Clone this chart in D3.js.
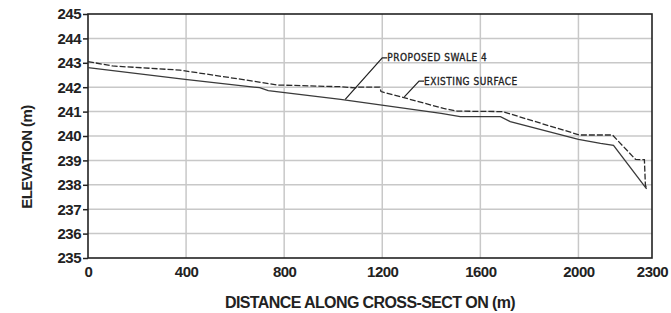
<!DOCTYPE html>
<html>
<head>
<meta charset="utf-8">
<script src="https://cdn.jsdelivr.net/npm/d3@7"></script>
<style>
  body { margin: 0; background: #fff; }
  svg { display: block; }
</style>
</head>
<body>
<div id="chart"></div>
<script>
// 資料
const existingDist = [0, 100, 375, 660, 770, 1030, 1090, 1100, 1190, 1195, 1300, 1450, 1505, 1690, 2005, 2139, 2233, 2269, 2273, 2278];
const existingElev = [243.05, 242.87, 242.7, 242.27, 242.09, 242.02, 241.97, 242.0, 242.0, 241.82, 241.54, 241.13, 241.02, 241.0, 240.04, 240.04, 239.04, 239.03, 238.0, 237.83];

const proposedDist = [0, 396, 700, 735, 1030, 1440, 1518, 1682, 1722, 2000, 2090, 2143, 2278];
const proposedElev = [242.8, 242.32, 241.98, 241.86, 241.5, 240.93, 240.79, 240.79, 240.59, 239.86, 239.7, 239.62, 237.83];

const xTicks = [0, 400, 800, 1200, 1600, 2000, 2300];
const xGrid = [400, 800, 1200, 1600, 2000];
const yTicks = [235, 236, 237, 238, 239, 240, 241, 242, 243, 244, 245];

// 標註 (資料座標)
const notes = [
  { text: "PROPOSED SWALE 4", at: [1049, 241.5], label: [1200, 243.2] },
  { text: "EXISTING SURFACE", at: [1290, 241.6], label: [1350, 242.25] }
];

const width = 671, height = 313;
const margin = { top: 14, right: 19, bottom: 55, left: 88 };

const svg = d3.select("#chart").append("svg")
  .attr("width", width)
  .attr("height", height);

const x = d3.scaleLinear().domain([0, 2300]).range([margin.left, width - margin.right]);
const y = d3.scaleLinear().domain([235, 245]).range([height - margin.bottom, margin.top]);

// 格線
svg.append("g").selectAll("line").data(yTicks.slice(1, -1)).join("line")
  .attr("x1", x(0)).attr("x2", x(2300))
  .attr("y1", d => y(d)).attr("y2", d => y(d))
  .attr("stroke", "#c8c8c8").attr("stroke-width", 1.5);

svg.append("g").selectAll("line").data(xGrid).join("line")
  .attr("x1", d => x(d)).attr("x2", d => x(d))
  .attr("y1", y(235)).attr("y2", y(245))
  .attr("stroke", "#c8c8c8").attr("stroke-width", 1.5);

// 外框
svg.append("rect")
  .attr("x", x(0)).attr("y", y(245))
  .attr("width", x(2300) - x(0)).attr("height", y(235) - y(245))
  .attr("fill", "none").attr("stroke", "#222").attr("stroke-width", 1.6);

// 座標軸
const yAxis = svg.append("g")
  .attr("transform", `translate(${x(0)},0)`)
  .call(d3.axisLeft(y).tickValues(yTicks).tickFormat(d3.format("d")).tickSize(5).tickPadding(2));
const xAxis = svg.append("g")
  .attr("transform", `translate(0,${y(235)})`)
  .call(d3.axisBottom(x).tickValues(xTicks).tickFormat(d3.format("d")).tickSize(0).tickPadding(8));

[yAxis, xAxis].forEach(a => {
  a.select(".domain").remove();
  a.selectAll("line").attr("stroke", "#222").attr("stroke-width", 1.5);
  a.selectAll("text")
    .attr("fill", "#222")
    .style("font-family", "'Liberation Sans', Arial, sans-serif")
    .style("font-weight", "bold")
    .style("font-size", "15px")
    .style("letter-spacing", "-0.5px");
});

// 線條
const line = d3.line().x(d => x(d[0])).y(d => y(d[1]));

svg.append("path")
  .datum(proposedDist.map((d, i) => [d, proposedElev[i]]))
  .attr("d", line)
  .attr("fill", "none")
  .attr("stroke", "#3a3a3a")
  .attr("stroke-width", 1.3);

svg.append("path")
  .datum(existingDist.map((d, i) => [d, existingElev[i]]))
  .attr("d", line)
  .attr("fill", "none")
  .attr("stroke", "#2a2a2a")
  .attr("stroke-width", 1.3)
  .attr("stroke-dasharray", "6,2");

// 標註
const noteG = svg.append("g");
notes.forEach(n => {
  const lx = x(n.label[0]), ly = y(n.label[1]);
  noteG.append("path")
    .attr("d", `M${x(n.at[0])},${y(n.at[1])}L${lx},${ly}L${lx + 5},${ly}`)
    .attr("fill", "none").attr("stroke", "#222").attr("stroke-width", 1.2);
  noteG.append("text")
    .attr("x", lx + 5).attr("y", ly).attr("dy", "0.35em")
    .attr("fill", "#222")
    .style("font-family", "'DejaVu Sans Condensed', 'DejaVu Sans', sans-serif")
    .style("font-size", "10px")
    .style("letter-spacing", "0.5px")
    .style("stroke", "#222")
    .style("stroke-width", "0.3px")
    .text(n.text);
});

// 軸標題
svg.append("text")
  .attr("x", 370).attr("y", 308)
  .attr("text-anchor", "middle")
  .attr("fill", "#222")
  .style("font-family", "'Liberation Sans', Arial, sans-serif")
  .style("font-weight", "bold")
  .style("font-size", "16px")
  .style("letter-spacing", "-0.6px")
  .text("DISTANCE ALONG CROSS-SECT ON (m)");

svg.append("text")
  .attr("transform", "translate(32,157) rotate(-90)")
  .attr("text-anchor", "middle")
  .attr("fill", "#222")
  .style("font-family", "'Liberation Sans', Arial, sans-serif")
  .style("font-weight", "bold")
  .style("font-size", "15px")
  .style("letter-spacing", "-0.6px")
  .text("ELEVATION (m)");
</script>
</body>
</html>
